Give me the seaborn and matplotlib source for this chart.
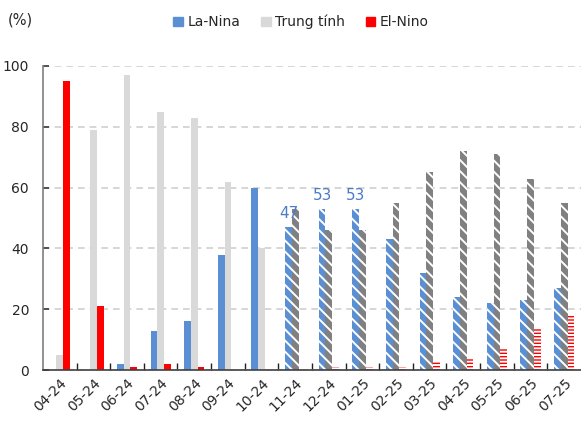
import matplotlib
matplotlib.use("Agg")
import matplotlib.pyplot as plt
import seaborn as sns
import pandas as pd
import numpy as np

# ENSO probability by month (%), observed through 10-24, forecast afterwards
months = ["04-24", "05-24", "06-24", "07-24", "08-24", "09-24", "10-24", "11-24",
          "12-24", "01-25", "02-25", "03-25", "04-25", "05-25", "06-25", "07-25"]
la_nina = [0, 0, 2, 13, 16, 38, 60, 47, 53, 53, 43, 32, 24, 22, 23, 27]
neutral = [5, 79, 97, 85, 83, 62, 40, 53, 46, 46, 55, 65, 72, 71, 63, 55]
el_nino = [95, 21, 1, 2, 1, 0, 0, 0, 1, 1, 1, 3, 4, 7, 14, 18]
labelled_months = ["11-24", "12-24", "01-25"]
first_forecast = "11-24"

series_names = ["La-Nina", "Trung tính", "El-Nino"]
solid_colors = {"La-Nina": "#5B8FD3", "Trung tính": "#D9D9D9", "El-Nino": "#FF0000"}
forecast_colors = {"La-Nina": "#5B8FD3", "Trung tính": "#808080", "El-Nino": "#FF0000"}
forecast_hatch = {"La-Nina": "\\\\\\", "Trung tính": "\\\\\\", "El-Nino": "-----"}

df = pd.DataFrame({
    "month": months * 3,
    "series": sum([[n] * len(months) for n in series_names], []),
    "value": la_nina + neutral + el_nino,
})

sns.set_theme(style="white")
plt.rcParams["font.family"] = ["DejaVu Sans"]
plt.rcParams["hatch.linewidth"] = 1.4

fig = plt.figure(figsize=(5.81, 4.23), dpi=100)
ax = fig.add_axes([0.074, 0.125, 0.926, 0.719])

sns.barplot(data=df, x="month", y="value", hue="series", order=months,
            hue_order=series_names, palette=solid_colors, width=0.6,
            gap=0, ax=ax, legend=False, saturation=1)

start = months.index(first_forecast)
for name, cont in zip(series_names, ax.containers):
    for i, bar in enumerate(cont.patches):
        bar.set_linewidth(0)
        if i >= start:
            bar.set_facecolor(forecast_colors[name])
            bar.set_edgecolor("white")
            bar.set_hatch(forecast_hatch[name])

# value labels above selected La-Nina bars
la_cont = ax.containers[0]
for m in labelled_months:
    i = months.index(m)
    bar = la_cont.patches[i]
    ax.text(bar.get_x() + bar.get_width() / 2, la_nina[i] + 2, f"{la_nina[i]}",
            ha="center", va="bottom", color="#4A7CC8", fontsize=11)

ax.set_ylim(0, 100)
ax.set_xlim(-0.5, len(months) - 0.5)
ax.set_yticks(np.arange(0, 101, 20))
ax.yaxis.grid(True, color="#D0D0D0", linestyle=(0, (4, 3)), linewidth=1.2)
ax.set_axisbelow(True)
ax.set_xlabel("")
ax.set_ylabel("")

for s in ["top", "right"]:
    ax.spines[s].set_visible(False)
ax.spines["left"].set_color("#7F7F7F")
ax.spines["bottom"].set_color("#404040")
ax.spines["left"].set_linewidth(1.2)
ax.spines["bottom"].set_linewidth(1.2)

ax.tick_params(axis="y", labelsize=10, pad=10, length=4, direction="in",
               color="#404040", left=True)
ax.tick_params(axis="x", labelsize=10, length=0, pad=4)
ax.set_xticks(range(len(months)))
ax.set_xticklabels(months, rotation=45, ha="right", rotation_mode="anchor")
ax.set_xticks(np.arange(0.5, len(months) - 0.5, 1), minor=True)
ax.tick_params(axis="x", which="minor", length=5, direction="in",
               color="#202020", bottom=True)

fig.text(0.013, 0.952, "(%)", fontsize=10.5, ha="left", va="center")

handles = [plt.Rectangle((0, 0), 1, 1, color=solid_colors[n]) for n in series_names]
fig.legend(handles, series_names, loc="center", bbox_to_anchor=(0.518, 0.948),
           ncol=3, frameon=False, fontsize=10, handlelength=0.7,
           handleheight=0.7, handletextpad=0.3, columnspacing=1.5)

fig.savefig("out.png", dpi=100)
